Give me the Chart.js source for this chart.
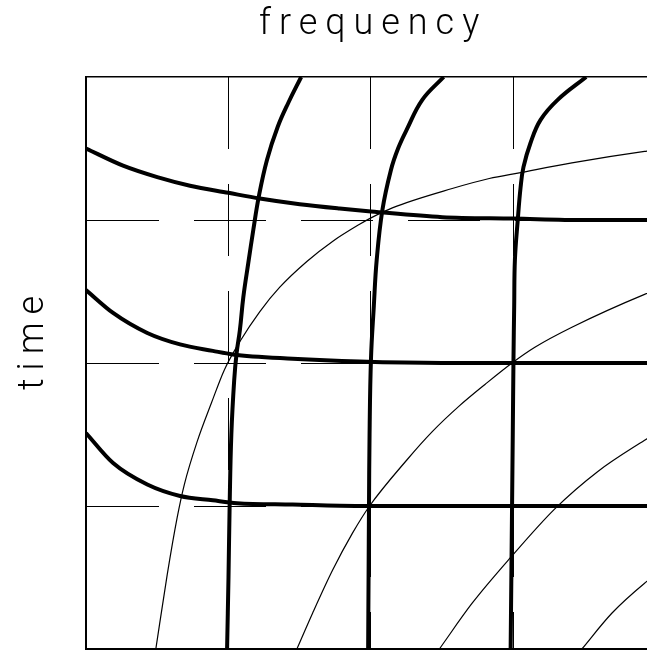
<!DOCTYPE html>
<html><head><meta charset="utf-8">
<script src="https://cdn.jsdelivr.net/npm/chart.js@4.4.1/dist/chart.umd.min.js"></script>
<style>html,body{margin:0;padding:0;background:#fff;overflow:hidden}canvas{display:block}</style>
</head><body>
<canvas id="c" width="647" height="653"></canvas>
<script>
const titleText = 'frequency';
const yLabelText = 'time';

// thick, nearly horizontal curves (approach time = 3, 2, 1)
const h3X = [0, 0.26, 0.5, 0.73, 1.0, 1.22, 1.5, 1.78, 2.0, 2.5, 3.0, 3.5, 4.0];
const h3Y = [3.50, 3.38, 3.30, 3.24, 3.19, 3.15, 3.11, 3.08, 3.06, 3.02, 3.01, 3.0, 3.0];
const h2X = [0, 0.19, 0.43, 0.66, 0.89, 1.03, 1.45, 1.92, 2.5, 3.0, 4.0];
const h2Y = [2.51, 2.35, 2.21, 2.13, 2.085, 2.06, 2.03, 2.01, 2.0, 2.0, 2.0];
const h1X = [0, 0.19, 0.43, 0.66, 0.89, 1.06, 1.45, 1.92, 2.5, 3.0, 4.0];
const h1Y = [1.51, 1.30, 1.15, 1.07, 1.04, 1.02, 1.01, 1.0, 1.0, 1.0, 1.0];

// thick, nearly vertical curves (start at frequency = 1, 2, 3)
const v1X = [0.99, 1.0, 1.008, 1.02, 1.04, 1.057, 1.08, 1.104, 1.139, 1.174, 1.212, 1.27, 1.345, 1.42, 1.51];
const v1Y = [0, 0.5, 1.0, 1.5, 1.88, 2.07, 2.23, 2.46, 2.70, 2.93, 3.16, 3.42, 3.65, 3.82, 4.0];
const v2X = [1.98, 1.983, 1.986, 1.99, 2.0, 2.02, 2.04, 2.08, 2.14, 2.19, 2.25, 2.36, 2.51];
const v2Y = [0, 0.5, 1.0, 1.5, 2.03, 2.4, 2.72, 3.07, 3.35, 3.5, 3.63, 3.84, 4.0];
const v3X = [2.98, 2.985, 2.99, 2.995, 3.0, 3.005, 3.01, 3.03, 3.05, 3.07, 3.12, 3.19, 3.31, 3.51];
const v3Y = [0, 0.5, 1.0, 1.5, 2.03, 2.4, 2.72, 3.0, 3.23, 3.37, 3.54, 3.70, 3.84, 4.0];

// thin rising curves
const t1X = [0.49, 0.57, 0.64, 0.69, 0.78, 0.88, 0.97, 1.08, 1.22, 1.36, 1.55, 1.73, 1.92, 2.0, 2.15, 2.57, 2.83, 3.04, 3.41, 3.92, 4.0];
const t1Y = [0.0, 0.52, 0.92, 1.15, 1.45, 1.72, 1.95, 2.15, 2.36, 2.53, 2.71, 2.85, 2.97, 3.015, 3.085, 3.22, 3.29, 3.33, 3.40, 3.48, 3.49];
const t2X = [1.48, 1.59, 1.73, 1.87, 1.99, 2.25, 2.43, 2.62, 2.80, 2.99, 3.15, 3.41, 3.92, 4.0];
const t2Y = [0.0, 0.25, 0.55, 0.81, 1.0, 1.32, 1.52, 1.70, 1.85, 2.0, 2.11, 2.25, 2.48, 2.51];
const t3X = [2.48, 2.71, 2.98, 3.29, 3.59, 3.92, 4.0];
const t3Y = [0.0, 0.32, 0.64, 0.98, 1.24, 1.46, 1.51];
const t4X = [3.48, 3.69, 3.92, 4.0];
const t4Y = [0.0, 0.25, 0.46, 0.52];

const xMin = 0, xMax = 3.937, yMin = 0, yMax = 4, gridStep = 1;

const pts = (xs, ys) => xs.map((x, i) => ({x: x, y: ys[i]}));
const thin = (xs, ys) => ({data: pts(xs, ys), borderColor: '#000', borderWidth: 1.2, cubicInterpolationMode: 'monotone'});
const thickH = (xs, ys) => ({data: pts(xs, ys), borderColor: '#000', borderWidth: 4, cubicInterpolationMode: 'monotone'});
const thickV = (xs, ys) => ({data: pts(xs, ys), borderColor: '#000', borderWidth: 4, tension: 0.4});

const FONT = '300 36px Roboto, "DejaVu Sans", sans-serif';
const SPACING = '8px';

const gridColor = (c) => {
  const v = c.tick ? c.tick.value : null;
  return (v === null || v <= 0 || v === xMax || v >= yMax) ? 'rgba(0,0,0,0)' : '#000';
};

const textPlugin = {
  id: 'texts',
  afterDraw(chart) {
    const ctx = chart.ctx;
    ctx.save();
    ctx.letterSpacing = SPACING;
    ctx.font = FONT;
    ctx.fillStyle = '#000';
    ctx.textAlign = 'left';
    ctx.textBaseline = 'alphabetic';
    ctx.fillText(titleText, 259, 34);
    ctx.translate(43, 390);
    ctx.rotate(-Math.PI / 2);
    ctx.fillText(yLabelText, 0, 0);
    ctx.restore();
  }
};

new Chart(document.getElementById('c'), {
  type: 'scatter',
  data: {
    datasets: [
      thin(t1X, t1Y), thin(t2X, t2Y), thin(t3X, t3Y), thin(t4X, t4Y),
      thickH(h3X, h3Y), thickH(h2X, h2Y), thickH(h1X, h1Y),
      thickV(v1X, v1Y), thickV(v2X, v2Y), thickV(v3X, v3Y)
    ].map(d => Object.assign(d, {showLine: true, pointRadius: 0, pointHoverRadius: 0, borderJoinStyle: 'round', fill: false}))
  },
  options: {
    responsive: false,
    animation: false,
    devicePixelRatio: 1,
    events: [],
    layout: {padding: 0},
    plugins: {legend: {display: false}, tooltip: {enabled: false}, title: {display: false}},
    scales: {
      x: {
        type: 'linear', position: 'bottom', min: xMin, max: xMax,
        ticks: {display: false, stepSize: gridStep},
        grid: {color: gridColor, lineWidth: 1, drawTicks: false, tickLength: 0},
        border: {display: true, color: '#000', width: 2, dash: [72, 35]},
        afterFit(s) { s.height = 4; }
      },
      y: {
        type: 'linear', position: 'left', min: yMin, max: yMax,
        ticks: {display: false, stepSize: gridStep},
        grid: {color: gridColor, lineWidth: 1, drawTicks: false, tickLength: 0},
        border: {display: true, color: '#000', width: 2, dash: [72, 35]},
        afterFit(s) { s.width = 86; }
      },
      x2: {
        type: 'linear', axis: 'x', position: 'top', min: xMin, max: xMax,
        ticks: {display: false},
        grid: {display: false, drawTicks: false},
        border: {display: true, color: '#000', width: 1.5},
        afterFit(s) { s.height = 77; }
      }
    }
  },
  plugins: [textPlugin]
});
</script>
</body></html>
